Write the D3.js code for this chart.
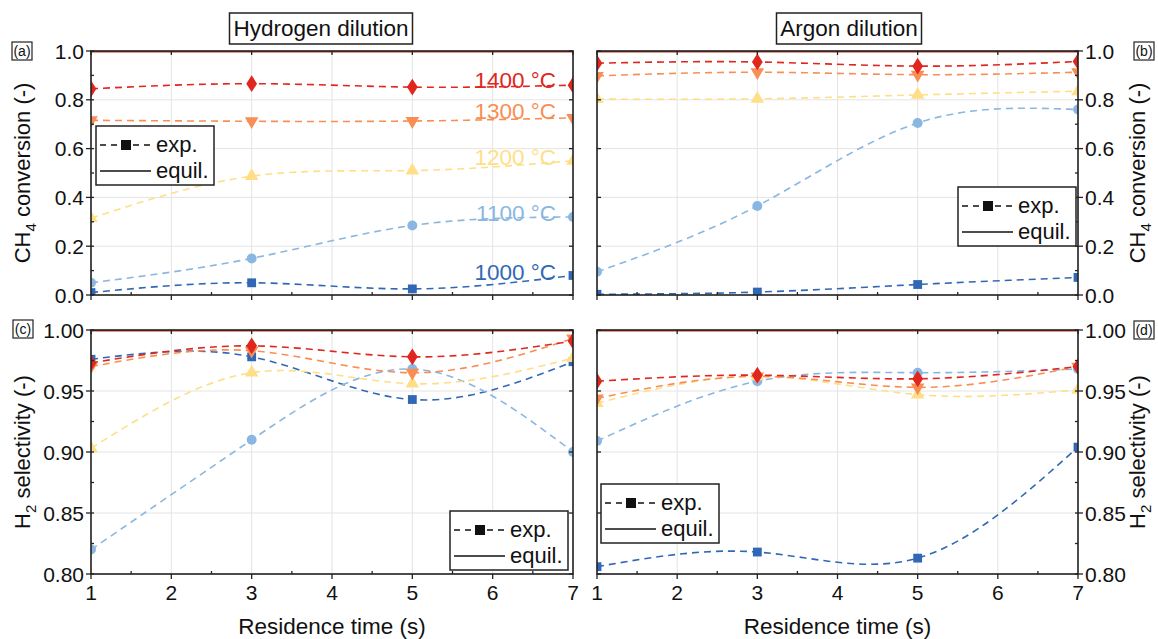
<!DOCTYPE html>
<html>
<head>
<meta charset="utf-8">
<script src="https://cdn.jsdelivr.net/npm/d3@7"></script>
<style>
  body { margin: 0; background: #fff; }
  svg text { font-family: "Liberation Sans", Arial, sans-serif; }
</style>
</head>
<body>
<svg id="chart" width="1158" height="639"></svg>
<script>
// residence time (s)
var times = [1, 3, 5, 7];
var temps = ['1400 °C', '1300 °C', '1200 °C', '1100 °C', '1000 °C'];
var colors = ['#e0261d', '#f98e55', '#fedf88', '#8ab7e2', '#3168b5'];
var shapes = [d3.symbolDiamond, 'down', 'up', d3.symbolCircle, d3.symbolSquare];

// CH4 conversion, hydrogen dilution (a)
var convH2 = [
  [0.845, 0.866, 0.852, 0.860],
  [0.716, 0.712, 0.713, 0.726],
  [0.315, 0.487, 0.510, 0.550],
  [0.050, 0.150, 0.285, 0.320],
  [0.010, 0.050, 0.025, 0.080]
];
// CH4 conversion, argon dilution (b)
var convAr = [
  [0.950, 0.955, 0.938, 0.957],
  [0.898, 0.913, 0.903, 0.913],
  [0.803, 0.804, 0.820, 0.835],
  [0.095, 0.365, 0.705, 0.760],
  [0.003, 0.012, 0.043, 0.072]
];
// H2 selectivity, hydrogen dilution (c)
var selH2 = [
  [0.973, 0.987, 0.978, 0.991],
  [0.970, 0.983, 0.965, 0.993],
  [0.903, 0.965, 0.956, 0.977],
  [0.820, 0.910, 0.968, 0.900],
  [0.976, 0.978, 0.943, 0.974]
];
// H2 selectivity, argon dilution (d)
var selAr = [
  [0.958, 0.963, 0.960, 0.970],
  [0.944, 0.962, 0.953, 0.970],
  [0.940, 0.962, 0.947, 0.951],
  [0.909, 0.958, 0.965, 0.968],
  [0.806, 0.818, 0.813, 0.904]
];
// equilibrium (all temperatures close to full conversion / selectivity)
var equilTimes = [1, 7];
var equil = [1.0, 1.0];

var convTicks = [0, 0.2, 0.4, 0.6, 0.8, 1.0];
var selTicks = [0.80, 0.85, 0.90, 0.95, 1.00];
var xTicks = [1, 2, 3, 4, 5, 6, 7];
// y position (data units) of temperature labels in (a)
var labelPos = [0.88, 0.755, 0.567, 0.336, 0.094];

var svg = d3.select('#chart');

var panels = [
  { id: 'a', data: convH2, left: 91, right: 573, top: 51, bottom: 295, dom: [0, 1], ticks: convTicks, fmt: d3.format('.1f'), minor: 0.1, side: 'left', xlabels: false,
    legend: [96, 126], tag: [12, 42], title: ['CH', '4', ' conversion (-)'] },
  { id: 'b', data: convAr, left: 597, right: 1078, top: 51, bottom: 295, dom: [0, 1], ticks: convTicks, fmt: d3.format('.1f'), minor: 0.1, side: 'right', xlabels: false,
    legend: [958, 187], tag: [1134, 42], title: ['CH', '4', ' conversion (-)'] },
  { id: 'c', data: selH2, left: 91, right: 573, top: 330, bottom: 574, dom: [0.8, 1], ticks: selTicks, fmt: d3.format('.2f'), minor: 0.025, side: 'left', xlabels: true,
    legend: [450, 511], tag: [13, 320], title: ['H', '2', ' selectivity (-)'] },
  { id: 'd', data: selAr, left: 597, right: 1078, top: 330, bottom: 574, dom: [0.8, 1], ticks: selTicks, fmt: d3.format('.2f'), minor: 0.025, side: 'right', xlabels: true,
    legend: [601, 484], tag: [1134, 321], title: ['H', '2', ' selectivity (-)'] }
];

function markerPath(shape) {
  if (shape === 'up' || shape === 'down') return d3.symbol().type(d3.symbolTriangle).size(80)();
  if (shape === d3.symbolDiamond) return d3.symbol().type(shape).size(100)();
  return d3.symbol().type(shape).size(78)();
}

panels.forEach(function(p) {
  var x = d3.scaleLinear().domain([1, 7]).range([p.left, p.right]);
  var y = d3.scaleLinear().domain(p.dom).range([p.bottom, p.top]);
  var g = svg.append('g').attr('id', 'panel_' + p.id);

  g.append('clipPath').attr('id', 'clip_' + p.id)
    .append('rect')
    .attr('x', p.left).attr('y', p.top)
    .attr('width', p.right - p.left).attr('height', p.bottom - p.top);

  // grid
  g.append('g').selectAll('line.gx').data(xTicks).enter().append('line')
    .attr('x1', function(d) { return x(d); }).attr('x2', function(d) { return x(d); })
    .attr('y1', p.top).attr('y2', p.bottom)
    .style('stroke', '#e4e4e4').style('stroke-width', 1);
  g.append('g').selectAll('line.gy').data(p.ticks).enter().append('line')
    .attr('y1', function(d) { return y(d); }).attr('y2', function(d) { return y(d); })
    .attr('x1', p.left).attr('x2', p.right)
    .style('stroke', '#e4e4e4').style('stroke-width', 1);

  var plot = g.append('g').attr('clip-path', 'url(#clip_' + p.id + ')');

  // equilibrium lines (drawn low temp first, red on top)
  var eqLine = d3.line().x(function(d, i) { return x(equilTimes[i]); }).y(function(d) { return y(d); });
  for (var k = temps.length - 1; k >= 0; k--) {
    plot.append('path').datum(equil)
      .attr('d', eqLine)
      .style('fill', 'none').style('stroke', colors[k]).style('stroke-width', 2.4);
  }

  var line = d3.line()
    .x(function(d, i) { return x(times[i]); })
    .y(function(d) { return y(d); })
    .curve(d3.curveNatural);

  for (var s = temps.length - 1; s >= 0; s--) {
    var vals = p.data[s];
    plot.append('path').datum(vals)
      .attr('d', line)
      .style('fill', 'none').style('stroke', colors[s])
      .style('stroke-width', 1.6).style('stroke-dasharray', '7,5');
    plot.selectAll('path.m' + s).data(vals).enter().append('path')
      .attr('class', 'm' + s)
      .attr('d', markerPath(shapes[s]))
      .attr('transform', function(d, i) {
        var t = 'translate(' + x(times[i]) + ',' + y(d) + ')';
        if (shapes[s] === 'down') t += ' rotate(180)';
        if (shapes[s] === d3.symbolDiamond) t += ' scale(1,0.9)';
        return t;
      })
      .style('fill', colors[s]);
  }

  // frame
  g.append('rect')
    .attr('x', p.left).attr('y', p.top)
    .attr('width', p.right - p.left).attr('height', p.bottom - p.top)
    .style('fill', 'none').style('stroke', '#222').style('stroke-width', 1.6);

  // ticks
  var minorY = d3.range(p.dom[0], p.dom[1] + 1e-9, p.minor);
  var minorX = d3.range(1.5, 7, 1);
  var tk = g.append('g').style('stroke', '#222').style('stroke-width', 1.3);
  var axX = p.side === 'left' ? p.left : p.right;
  var oppX = p.side === 'left' ? p.right : p.left;
  var out = p.side === 'left' ? -1 : 1;
  p.ticks.forEach(function(t) {
    tk.append('line').attr('x1', axX).attr('x2', axX + out * 5).attr('y1', y(t)).attr('y2', y(t));
    tk.append('line').attr('x1', oppX).attr('x2', oppX + out * 4).attr('y1', y(t)).attr('y2', y(t));
  });
  minorY.forEach(function(t) {
    tk.append('line').attr('x1', axX).attr('x2', axX - out * 3).attr('y1', y(t)).attr('y2', y(t));
  });
  xTicks.forEach(function(t) {
    tk.append('line').attr('x1', x(t)).attr('x2', x(t)).attr('y1', p.bottom).attr('y2', p.bottom + 5);
    tk.append('line').attr('x1', x(t)).attr('x2', x(t)).attr('y1', p.top).attr('y2', p.top + 4);
  });
  minorX.forEach(function(t) {
    tk.append('line').attr('x1', x(t)).attr('x2', x(t)).attr('y1', p.bottom).attr('y2', p.bottom - 3);
  });

  // tick labels
  g.selectAll('text.yl').data(p.ticks).enter().append('text')
    .attr('x', p.side === 'left' ? p.left - 7 : p.right + 7)
    .attr('y', function(d) { return y(d) + 7.5; })
    .attr('text-anchor', p.side === 'left' ? 'end' : 'start')
    .style('font-size', '21px').style('fill', '#111')
    .text(function(d) { return p.fmt(d); });

  if (p.xlabels) {
    g.selectAll('text.xl').data(xTicks).enter().append('text')
      .attr('x', function(d) { return x(d); })
      .attr('y', p.bottom + 26)
      .attr('text-anchor', 'middle')
      .style('font-size', '21px').style('fill', '#111')
      .text(function(d) { return d; });
    g.append('text')
      .attr('x', (p.left + p.right) / 2).attr('y', 634)
      .attr('text-anchor', 'middle')
      .style('font-size', '22.5px').style('fill', '#111')
      .text('Residence time (s)');
  }

  // y axis title
  var tx = p.side === 'left' ? 30 : 1145;
  var yt = g.append('text')
    .attr('transform', 'translate(' + tx + ',' + ((p.top + p.bottom) / 2) + ') rotate(-90)')
    .attr('text-anchor', 'middle')
    .style('font-size', '22px').style('fill', '#111');
  yt.append('tspan').text(p.title[0]);
  yt.append('tspan').attr('dy', 6).style('font-size', '15px').text(p.title[1]);
  yt.append('tspan').attr('dy', -6).text(p.title[2]);

  // panel tag
  var tag = g.append('g').attr('transform', 'translate(' + p.tag[0] + ',' + p.tag[1] + ')');
  tag.append('rect').attr('width', 20).attr('height', 18)
    .style('fill', 'none').style('stroke', '#222').style('stroke-width', 1.2);
  tag.append('text').attr('x', 10).attr('y', 14).attr('text-anchor', 'middle')
    .style('font-size', '14px').style('fill', '#111').text('(' + p.id + ')');

  // legend
  var lg = g.append('g').attr('transform', 'translate(' + p.legend[0] + ',' + p.legend[1] + ')');
  lg.append('rect').attr('width', 118).attr('height', 59)
    .style('fill', '#fff').style('stroke', '#222').style('stroke-width', 1.5);
  lg.append('line').attr('x1', 4).attr('x2', 55).attr('y1', 19).attr('y2', 19)
    .style('stroke', '#111').style('stroke-width', 1.4).style('stroke-dasharray', '6,5');
  lg.append('rect').attr('x', 25).attr('y', 14).attr('width', 10).attr('height', 10).style('fill', '#111');
  lg.append('text').attr('x', 60).attr('y', 26).style('font-size', '22px').style('fill', '#111').text('exp.');
  lg.append('line').attr('x1', 4).attr('x2', 55).attr('y1', 45).attr('y2', 45)
    .style('stroke', '#111').style('stroke-width', 1.6);
  lg.append('text').attr('x', 60).attr('y', 52).style('font-size', '22px').style('fill', '#111').text('equil.');

  // temperature labels in (a)
  if (p.id === 'a') {
    g.selectAll('text.tl').data(temps).enter().append('text')
      .attr('x', 556)
      .attr('y', function(d, i) { return y(labelPos[i]) + 8; })
      .attr('text-anchor', 'end')
      .style('font-size', '22.5px')
      .style('fill', function(d, i) { return colors[i]; })
      .text(function(d) { return d; });
  }
});

// column titles
var titles = [
  { text: 'Hydrogen dilution', cx: 321, w: 183 },
  { text: 'Argon dilution', cx: 849, w: 145 }
];
titles.forEach(function(t) {
  svg.append('rect').attr('x', t.cx - t.w / 2).attr('y', 13).attr('width', t.w).attr('height', 31)
    .style('fill', '#fff').style('stroke', '#222').style('stroke-width', 1.5);
  svg.append('text').attr('x', t.cx).attr('y', 36).attr('text-anchor', 'middle')
    .style('font-size', '22.5px').style('fill', '#111').text(t.text);
});
</script>
</body>
</html>
